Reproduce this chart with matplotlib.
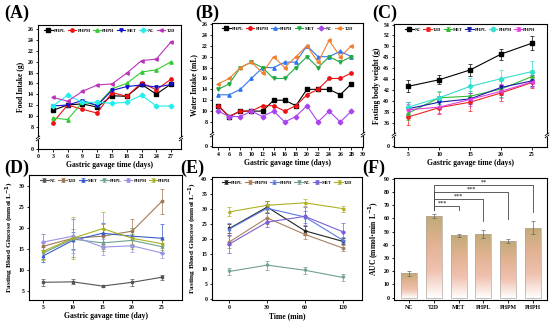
import numpy as np
import matplotlib
matplotlib.use('Agg')
import matplotlib.pyplot as plt
from matplotlib.colors import LinearSegmentedColormap
from matplotlib.patches import Rectangle

plt.rcParams['font.family'] = ['Liberation Serif', 'DejaVu Serif']
plt.rcParams['font.weight'] = 'bold'
plt.rcParams['axes.labelweight'] = 'bold'
plt.rcParams['axes.linewidth'] = 0.8

# ---- data ----
# (A) food intake
a_days = [3, 6, 9, 12, 15, 18, 21, 24, 27]
a_phpl = [11.0, 12.0, 12.2, 11.6, 13.7, 13.6, 15.8, 14.0, 15.9]
a_phpm = [8.7, 12.0, 11.2, 10.5, 14.3, 13.6, 16.1, 14.8, 16.8]
a_phph = [9.6, 9.3, 12.5, 12.0, 15.0, 16.0, 18.1, 18.5, 20.0]
a_met = [11.8, 12.0, 12.8, 11.9, 14.7, 15.4, 15.7, 15.3, 15.8]
a_nc = [11.8, 13.8, 12.5, 12.5, 12.3, 12.5, 13.8, 11.8, 11.8]
a_t2d = [13.4, 12.7, 14.5, 15.7, 15.9, 17.9, 20.2, 20.5, 23.7]

# (B) water intake
b_days = [4, 6, 8, 10, 12, 14, 16, 18, 20, 22, 24, 26, 28]
b_phpl = [11, 9, 10, 10, 10, 12, 12, 11, 14, 14, 14, 13, 15]
b_phpm = [11, 9, 10, 10, 11, 11, 10, 11, 13, 14, 16, 16, 17]
b_phph = [13, 13, 14, 16, 18, 18, 19, 19, 22, 20, 20, 21, 20]
b_met = [14, 15, 18, 19, 18, 16, 16, 18, 20, 18, 20, 19, 20]
b_nc = [10, 9, 9, 10, 9, 10, 8, 9, 11, 8, 10, 8, 10]
b_t2d = [15, 16, 18, 19, 17, 20, 18, 20, 22, 19, 23, 20, 22]

# (C) fasting body weight
c_days = [5, 10, 15, 20, 25]
c_nc = [42.7, 43.9, 45.7, 48.6, 50.6]
c_nc_err = [1.1, 0.8, 1.1, 1.0, 1.3]
c_t2d = [37.1, 38.8, 39.8, 41.5, 43.4]
c_t2d_err = [1.5, 1.2, 1.6, 1.5, 1.0]
c_met = [37.8, 40.6, 40.9, 42.2, 44.5]
c_met_err = [1.2, 1.1, 1.0, 1.4, 1.2]
c_phpl = [38.6, 39.8, 40.4, 42.5, 43.7]
c_phpl_err = [1.3, 1.2, 1.0, 1.3, 1.0]
c_phpm = [38.9, 40.6, 42.7, 44.1, 45.4]
c_phpm_err = [1.0, 1.2, 1.6, 1.5, 2.0]
c_phph = [38.4, 38.9, 40.3, 41.8, 43.5]
c_phph_err = [1.0, 1.0, 1.2, 1.3, 1.0]

# (D) fasting blood glucose
d_days = [5, 10, 15, 20, 25]
d_nc = [7.0, 7.1, 6.1, 7.0, 8.2]
d_nc_err = [0.8, 0.6, 0.3, 0.9, 0.6]
d_t2d = [15.6, 17.5, 18.0, 19.2, 26.3]
d_t2d_err = [3.0, 4.5, 3.0, 3.0, 3.0]
d_met = [13.3, 17.0, 18.7, 18.0, 17.5]
d_met_err = [1.5, 2.0, 2.5, 2.0, 3.5]
d_phpl = [14.0, 17.3, 16.4, 17.0, 15.5]
d_phpl_err = [1.5, 2.5, 2.0, 1.5, 1.5]
d_phpm = [16.6, 18.0, 15.4, 15.7, 14.0]
d_phpm_err = [2.0, 4.0, 2.0, 1.5, 1.2]
d_phph = [14.4, 17.5, 19.8, 17.5, 16.2]
d_phph_err = [2.0, 5.0, 4.0, 2.5, 1.5]

# (E) OGTT
e_time = ['0', '30', '60', '120']
e_phpl = [23.5, 30.6, 22.7, 19.2]
e_phpl_err = [1.5, 2.0, 1.5, 1.0]
e_phpm = [19.0, 27.0, 21.5, 17.0]
e_phpm_err = [2.0, 2.0, 1.5, 1.0]
e_phph = [23.3, 30.2, 27.3, 19.6]
e_phph_err = [2.0, 1.5, 2.0, 1.0]
e_nc = [9.2, 11.3, 9.6, 7.2]
e_nc_err = [1.3, 1.5, 1.2, 1.2]
e_met = [18.3, 25.6, 27.5, 22.4]
e_met_err = [3.0, 1.5, 3.0, 2.8]
e_t2d = [29.0, 31.2, 32.0, 30.1]
e_t2d_err = [1.5, 1.5, 1.2, 1.0]

# (F) AUC
f_groups = ['NC', 'T2D', 'MET', 'PHPL', 'PHPM', 'PHPH']
f_auc = [18.5, 62.0, 47.0, 48.0, 43.0, 53.0]
f_err = [2.0, 1.5, 1.5, 3.0, 1.5, 5.0]
f_sig = ['***', '***', '***', '**']

W, H = 550, 323
fig = plt.figure(figsize=(W / 100, H / 100), dpi=100)


def add_ax(l, r, t, b):
    return fig.add_axes([l / W, 1 - b / H, (r - l) / W, (b - t) / H])


def style(ax):
    ax.tick_params(labelsize=4.2, length=1.8, width=0.6, pad=1.5, direction='out')
    for lab in ax.get_xticklabels() + ax.get_yticklabels():
        lab.set_fontweight('bold')


def axis_break(ax, y):
    for x in (0, 1):
        ax.add_patch(Rectangle((x - 0.012, y - 0.012), 0.024, 0.024, transform=ax.transAxes,
                               facecolor='white', edgecolor='none', clip_on=False, zorder=5))
        for dy in (-0.009, 0.009):
            ax.plot([x - 0.012, x + 0.012], [y + dy - 0.01, y + dy + 0.01], transform=ax.transAxes,
                    color='black', lw=0.6, clip_on=False, zorder=6)


def small_legend(ax, fs=3.2):
    ax.legend(loc='upper center', ncol=6, frameon=False, handlelength=1.9,
              handletextpad=0.25, columnspacing=0.5, borderaxespad=0.4,
              prop={'size': fs, 'weight': 'bold'})


ms = 2.4
lw = 0.8

# ---- (A) ----
ax = add_ax(38, 181, 25, 149)
for y, c, m, lab in [(a_phpl, 'black', 's', 'PHPL'), (a_phpm, '#ee1111', 'o', 'PHPM'),
                     (a_phph, '#33cc33', '^', 'PHPH'), (a_met, '#1111cc', 'v', 'MET'),
                     (a_nc, '#22eeee', 'D', 'NC'), (a_t2d, '#bb33bb', '<', 'T2D')]:
    ax.plot(a_days, y, color=c, marker=m, ms=ms, lw=lw, label=lab)
ax.set_xlim(0, 29)
ax.set_ylim(3.85, 26.8)
ax.set_xticks(range(0, 28, 3))
ax.set_yticks([3.94] + list(range(8, 27, 2)))
ax.set_yticklabels(['0'] + [str(v) for v in range(8, 27, 2)])
ax.set_ylabel('Food Intake (g)', fontsize=5.5, labelpad=2)
ax.set_xlabel('Gastric gavage time (days)', fontsize=5.5, labelpad=2)
axis_break(ax, 0.085)
small_legend(ax)
style(ax)

# ---- (B) ----
ax = add_ax(212, 363, 23, 147)
for y, c, m, lab in [(b_phpl, 'black', 's', 'PHPL'), (b_phpm, '#ee1111', 'o', 'PHPM'),
                     (b_phph, '#3377ee', '^', 'PHPH'), (b_met, '#22aa44', 'v', 'MET'),
                     (b_nc, '#aa44ee', 'D', 'NC'), (b_t2d, '#f08030', '<', 'T2D')]:
    ax.plot(b_days, y, color=c, marker=m, ms=ms, lw=lw, label=lab)
ax.set_xlim(2.9, 30.1)
ax.set_ylim(3.4, 26.2)
ax.set_xticks(range(4, 31, 2))
ax.set_yticks([3.5] + list(range(8, 27, 2)))
ax.set_yticklabels(['0'] + [str(v) for v in range(8, 27, 2)])
ax.set_ylabel('Water Intake (mL)', fontsize=5.5, labelpad=2)
ax.set_xlabel('Gastric gavage time (days)', fontsize=5.5, labelpad=2)
axis_break(ax, 0.10)
small_legend(ax)
style(ax)

# ---- (C) ----
ax = add_ax(394, 547, 24, 147)
for y, e, c, m, lab in [(c_nc, c_nc_err, 'black', 's', 'NC'), (c_t2d, c_t2d_err, '#ee2222', 'o', 'T2D'),
                        (c_met, c_met_err, '#33bb33', '^', 'MET'), (c_phpl, c_phpl_err, '#1a1aaa', 'v', 'PHPL'),
                        (c_phpm, c_phpm_err, '#33e0d0', 'D', 'PHPM'), (c_phph, c_phph_err, '#e040e0', '<', 'PHPH')]:
    ax.errorbar(c_days, y, yerr=e, color=c, marker=m, ms=ms, lw=lw, elinewidth=0.5,
                capsize=1.2, capthick=0.5, label=lab)
ax.set_xlim(2.7, 27.4)
ax.set_ylim(31.6, 54.1)
ax.set_xticks(c_days)
ax.set_yticks([31.7] + list(range(36, 55, 2)))
ax.set_yticklabels(['0'] + [str(v) for v in range(36, 55, 2)])
ax.set_ylabel('Fasting body weight (g)', fontsize=5.5, labelpad=2)
ax.set_xlabel('Gastric gavage time (days)', fontsize=5.5, labelpad=2)
axis_break(ax, 0.095)
small_legend(ax)
style(ax)

# ---- (D) ----
ax = add_ax(29, 182, 175, 300)
for y, e, c, m, lab in [(d_nc, d_nc_err, '#555555', 's', 'NC'), (d_t2d, d_t2d_err, '#a07855', 'o', 'T2D'),
                        (d_met, d_met_err, '#3a5cc8', '^', 'MET'), (d_phpl, d_phpl_err, '#70a08e', 'v', 'PHPL'),
                        (d_phpm, d_phpm_err, '#9a94e6', 'D', 'PHPM'), (d_phph, d_phph_err, '#a8b020', '<', 'PHPH')]:
    ax.errorbar(d_days, y, yerr=e, color=c, marker=m, ms=1.8, lw=lw, elinewidth=0.5,
                capsize=1.2, capthick=0.5, label=lab)
ax.set_xlim(2.6, 28.4)
ax.set_ylim(2.77, 32.6)
ax.set_xticks(d_days)
ax.set_yticks(range(5, 31, 5))
ax.set_ylabel('Fasting Blood Glucose (mmol L$^{\\mathbf{-1}}$)', fontsize=5.3, labelpad=2)
ax.set_xlabel('Gastric gavage time (day)', fontsize=5.5, labelpad=2)
small_legend(ax)
style(ax)

# ---- (E) ----
ax = add_ax(212, 362, 177, 300)
ex = np.arange(len(e_time))
for y, e, c, m, lab in [(e_phpl, e_phpl_err, '#222222', 's', 'PHPL'), (e_phpm, e_phpm_err, '#a88060', 'o', 'PHPM'),
                        (e_phph, e_phph_err, '#5a7ce0', '^', 'PHPH'), (e_nc, e_nc_err, '#70a08e', 'v', 'NC'),
                        (e_met, e_met_err, '#7a60d8', 'D', 'MET'), (e_t2d, e_t2d_err, '#b0b020', '<', 'T2D')]:
    ax.errorbar(ex, y, yerr=e, color=c, marker=m, ms=1.8, lw=lw, elinewidth=0.5,
                capsize=1.2, capthick=0.5, label=lab)
ax.set_xlim(-0.46, 3.51)
ax.set_ylim(-0.3, 40.6)
ax.set_xticks(ex)
ax.set_xticklabels(e_time)
ax.set_yticks(range(0, 41, 5))
ax.set_ylabel('Fasting Blood Glucose (mmol L$^{\\mathbf{-1}}$)', fontsize=5.3, labelpad=2)
ax.set_xlabel('Time (min)', fontsize=5.5, labelpad=2)
small_legend(ax)
style(ax)

# ---- (F) ----
ax = add_ax(394, 547, 178, 300)
fx = np.arange(len(f_groups))
bw = 0.64
cmap = LinearSegmentedColormap.from_list('grad', ['#ffffff', '#f0c2b0', '#e2b292', '#c0ab76'])
grad = np.linspace(0, 1, 256).reshape(-1, 1)
bars = ax.bar(fx, f_auc, width=bw, color='none', edgecolor='#b0a8a0', linewidth=0.5, zorder=3)
for b in bars:
    im = ax.imshow(grad, cmap=cmap, origin='lower', aspect='auto', zorder=2,
                   extent=[b.get_x(), b.get_x() + b.get_width(), 0, b.get_height()])
    im.set_clip_path(b)
ax.errorbar(fx, f_auc, yerr=f_err, fmt='none', ecolor='#666666', elinewidth=0.5,
            capsize=1.2, capthick=0.5, zorder=4)
# significance brackets from T2D
levels = [69.5, 74.6, 79.6, 85.4]
drops = [66.5, 57.6, 59.5, 65.0]
for k, (lv, dr, s) in enumerate(zip(levels, drops, f_sig)):
    tx = fx[k + 2]
    ax.plot([fx[1], fx[1], tx, tx], [66.0, lv, lv, dr], color='#444444', lw=0.6, zorder=4)
    ax.text((fx[1] + tx) / 2 - 0.15 * (k == 0), lv + 0.3, s, ha='center', va='bottom', fontsize=4.5,
            color='#444444')
ax.set_xlim(-0.6, 5.56)
ax.set_ylim(-1.8, 90.5)
ax.set_xticks(fx)
ax.set_xticklabels(f_groups)
ax.set_yticks(range(0, 91, 10))
ax.set_ylabel('AUC (mmol$\\cdot$min L$^{\\mathbf{-1}}$)', fontsize=5.5, labelpad=2)
style(ax)

# panel letters
for lab, x, y in [('(A)', 4, 18), ('(B)', 195, 18), ('(C)', 372, 18),
                  ('(D)', 4, 173), ('(E)', 180, 173), ('(F)', 362, 173)]:
    fig.text(x / W, 1 - y / H, lab, fontsize=13, fontweight='bold')

fig.savefig('out.png', dpi=100)
